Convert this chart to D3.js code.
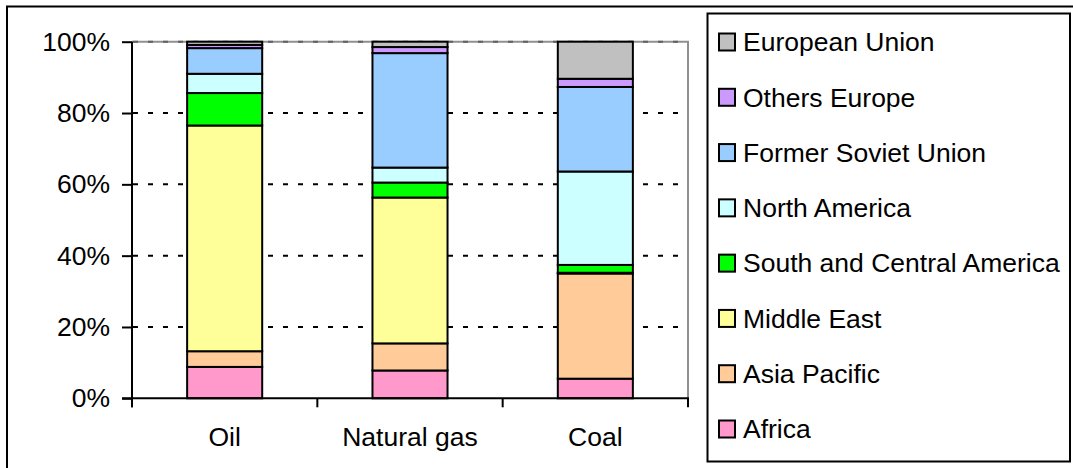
<!DOCTYPE html>
<html>
<head>
<meta charset="utf-8">
<script src="https://cdn.jsdelivr.net/npm/d3@7"></script>
<style>
  html, body { margin: 0; padding: 0; background: #fff; }
  svg { display: block; font-family: "Liberation Sans", Arial, sans-serif; }
</style>
</head>
<body>
<svg id="chart" width="1073" height="468"></svg>
<script>
// Share of world proven reserves by region (%)
const categories = ["Oil", "Natural gas", "Coal"];

const africa              = [8.8, 7.8, 5.5];
const asiaPacific         = [4.4, 7.6, 29.5];
const middleEast          = [63.3, 40.9, 0.2];
const southCentralAmerica = [9.1, 4.2, 2.2];
const northAmerica        = [5.4, 4.2, 26.2];
const formerSovietUnion   = [7.2, 32.1, 23.7];
const othersEurope        = [0.9, 1.7, 2.3];
const europeanUnion       = [0.9, 1.5, 10.4];

const yTicks = [0, 20, 40, 60, 80, 100];
const yTickLabels = ["0%", "20%", "40%", "60%", "80%", "100%"];

// stacking order, bottom to top
const series = [
  { name: "Africa", values: africa, color: "#FF99CC" },
  { name: "Asia Pacific", values: asiaPacific, color: "#FFCC99" },
  { name: "Middle East", values: middleEast, color: "#FFFF99" },
  { name: "South and Central America", values: southCentralAmerica, color: "#00FF00" },
  { name: "North America", values: northAmerica, color: "#CCFFFF" },
  { name: "Former Soviet Union", values: formerSovietUnion, color: "#99CCFF" },
  { name: "Others Europe", values: othersEurope, color: "#CC99FF" },
  { name: "European Union", values: europeanUnion, color: "#C0C0C0" }
];

const svg = d3.select("#chart");
const fontSize = 26.5;

// outer frame
svg.append("rect")
  .attr("x", 7).attr("y", 6.5)
  .attr("width", 1080).attr("height", 480)
  .attr("fill", "none").attr("stroke", "#000").attr("stroke-width", 2);

const plot = { left: 132, right: 688, top: 41.7, bottom: 398.3 };

const x = d3.scaleBand()
  .domain(categories)
  .range([plot.left, plot.right])
  .paddingInner(0.595)
  .paddingOuter(0.2975);

const y = d3.scaleLinear()
  .domain([0, 100])
  .range([plot.bottom, plot.top]);

// dotted gridlines
svg.append("g")
  .selectAll("line")
  .data(yTicks.filter(d => d > 0 && d < 100))
  .join("line")
  .attr("x1", plot.left + 1).attr("x2", plot.right)
  .attr("y1", d => y(d)).attr("y2", d => y(d))
  .attr("stroke", "#000").attr("stroke-width", 2)
  .attr("stroke-dasharray", "5,10");

// plot area border (top and right)
svg.append("path")
  .attr("d", `M${plot.left},${y(100)}H${plot.right}V${plot.bottom}`)
  .attr("fill", "none").attr("stroke", "#909090").attr("stroke-width", 2);
svg.append("line")
  .attr("x1", plot.left + 1).attr("x2", plot.right)
  .attr("y1", y(100)).attr("y2", y(100))
  .attr("stroke", "#606060").attr("stroke-width", 2)
  .attr("stroke-dasharray", "5,10");

// stacked bars
const table = categories.map((c, i) => {
  const row = { category: c };
  series.forEach(s => { row[s.name] = s.values[i]; });
  return row;
});
const stacked = d3.stack().keys(series.map(s => s.name))(table);

svg.append("g")
  .selectAll("g")
  .data(stacked)
  .join("g")
  .attr("fill", (d, i) => series[i].color)
  .selectAll("rect")
  .data(d => d)
  .join("rect")
  .attr("x", d => x(d.data.category))
  .attr("width", x.bandwidth())
  .attr("y", d => y(d[1]))
  .attr("height", d => y(d[0]) - y(d[1]))
  .attr("stroke", "#000")
  .attr("stroke-width", 2);

// y axis
const yAxis = d3.axisLeft(y)
  .tickValues(yTicks)
  .tickFormat((d, i) => yTickLabels[i])
  .tickSize(10)
  .tickPadding(12);

const gy = svg.append("g")
  .attr("transform", `translate(${plot.left},0)`)
  .call(yAxis);
gy.select(".domain").remove();
gy.selectAll(".tick line").attr("stroke", "#000").attr("stroke-width", 2);
gy.selectAll(".tick text")
  .attr("font-size", fontSize)
  .attr("font-family", "'Liberation Sans', Arial, sans-serif")
  .attr("fill", "#000");
svg.append("line")
  .attr("x1", plot.left).attr("x2", plot.left)
  .attr("y1", plot.top).attr("y2", plot.bottom + 9)
  .attr("stroke", "#000").attr("stroke-width", 2);

// x axis with ticks between categories
const xAxisG = svg.append("g");
xAxisG.append("line")
  .attr("x1", plot.left - 10).attr("x2", plot.right + 1)
  .attr("y1", plot.bottom).attr("y2", plot.bottom)
  .attr("stroke", "#000").attr("stroke-width", 2);
const step = x.step();
const boundaries = d3.range(categories.length + 1).map(i => plot.left + i * step);
xAxisG.selectAll("line.tick")
  .data(boundaries)
  .join("line")
  .attr("class", "tick")
  .attr("x1", d => d).attr("x2", d => d)
  .attr("y1", plot.bottom).attr("y2", plot.bottom + 9)
  .attr("stroke", "#000").attr("stroke-width", 2);
xAxisG.selectAll("text")
  .data(categories)
  .join("text")
  .attr("x", d => x(d) + x.bandwidth() / 2)
  .attr("y", 446)
  .attr("text-anchor", "middle")
  .attr("font-size", fontSize)
  .attr("fill", "#000")
  .text(d => d);

// legend
const legend = svg.append("g");
legend.append("rect")
  .attr("x", 707.5).attr("y", 13.5)
  .attr("width", 362.5).attr("height", 448)
  .attr("fill", "#fff").attr("stroke", "#000").attr("stroke-width", 2);

const legendItems = series.slice().reverse();
const rowY = d3.scalePoint()
  .domain(legendItems.map(s => s.name))
  .range([42, 429]);

const items = legend.selectAll("g.item")
  .data(legendItems)
  .join("g")
  .attr("class", "item")
  .attr("transform", d => `translate(0,${rowY(d.name)})`);
items.append("rect")
  .attr("x", 719).attr("y", -8.5)
  .attr("width", 16).attr("height", 17)
  .attr("fill", d => d.color)
  .attr("stroke", "#000").attr("stroke-width", 2);
items.append("text")
  .attr("x", 743)
  .attr("y", 0)
  .attr("dy", "0.35em")
  .attr("font-size", fontSize)
  .attr("fill", "#000")
  .text(d => d.name);
</script>
</body>
</html>
